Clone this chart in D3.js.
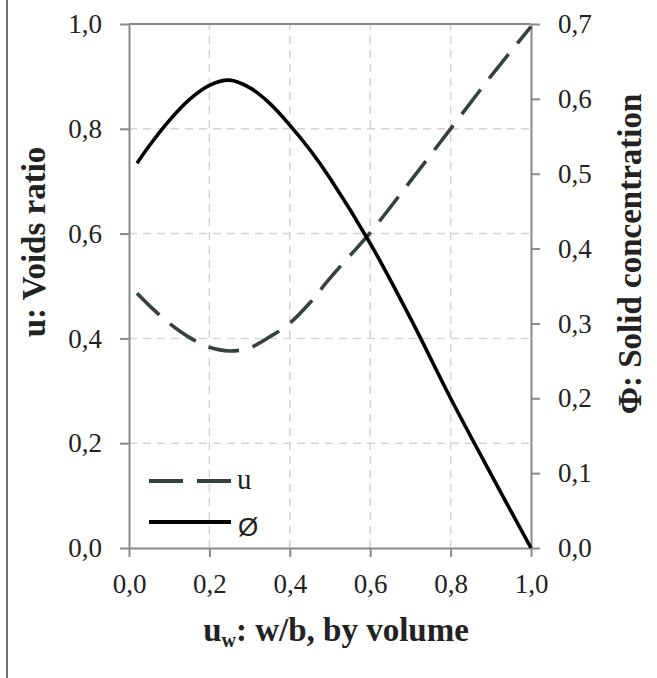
<!DOCTYPE html>
<html lang="en">
<head>
    <meta charset="UTF-8">
    <title>Voids ratio and solid concentration</title>
    <script src="https://d3js.org/d3.v7.min.js"></script>
    <style>
        body {
            margin: 0;
            background: #ffffff;
        }
        svg {
            display: block;
        }
        .tick text {
            font-family: "Liberation Serif", "Times New Roman", serif;
            font-size: 27px;
            fill: #222;
        }
        .axis path, .axis line {
            stroke: #8a8a8a;
            stroke-width: 2;
        }
        .grid line {
            stroke: #d4d4d4;
            stroke-width: 1.5;
            stroke-dasharray: 8, 6;
        }
        .title {
            font-family: "Liberation Serif", "Times New Roman", serif;
            font-weight: bold;
            font-size: 33px;
            fill: #222;
        }
    </style>
</head>
<body>
    <svg></svg>
    <script>
        // values
        const uw = [0.02, 0.05, 0.1, 0.15, 0.2, 0.25, 0.3, 0.35, 0.4, 0.45, 0.5, 0.6, 0.7, 0.8, 0.9, 1.0];
        const uVals = [0.486, 0.463, 0.429, 0.402, 0.383, 0.376, 0.382, 0.403, 0.429, 0.468, 0.515, 0.602, 0.700, 0.800, 0.900, 0.995];
        const phiVals = [0.514, 0.537, 0.571, 0.599, 0.618, 0.625, 0.615, 0.594, 0.565, 0.532, 0.494, 0.407, 0.307, 0.200, 0.099, 0.0];

        const xTicks = [0, 0.2, 0.4, 0.6, 0.8, 1.0];
        const leftTicks = [0, 0.2, 0.4, 0.6, 0.8, 1.0];
        const rightTicks = [0, 0.1, 0.2, 0.3, 0.4, 0.5, 0.6, 0.7];
        const legendNames = ["u", "Ø"];

        const width = 657, height = 678;
        const margin = { top: 24, right: 126, bottom: 130, left: 129 };

        const svg = d3.select("svg")
            .attr("width", width)
            .attr("height", height);

        const x = d3.scaleLinear().domain([0, 1]).range([margin.left, width - margin.right]);
        const yL = d3.scaleLinear().domain([0, 1]).range([height - margin.bottom, margin.top]);
        const yR = d3.scaleLinear().domain([0, 0.7]).range([height - margin.bottom, margin.top]);

        const fmt = d => d3.format(".1f")(d).replace(".", ",");

        // frame line on the left side of the figure
        svg.append("line")
            .attr("x1", 7).attr("x2", 7)
            .attr("y1", 0).attr("y2", height)
            .attr("stroke", "#333")
            .attr("stroke-width", 1.4);

        // grid
        const grid = svg.append("g").attr("class", "grid");
        grid.selectAll(".v")
            .data(xTicks.filter(d => d > 0 && d < 1))
            .enter().append("line")
            .attr("x1", d => x(d)).attr("x2", d => x(d))
            .attr("y1", yL(0)).attr("y2", yL(1));
        grid.selectAll(".h")
            .data(leftTicks.filter(d => d > 0 && d < 1))
            .enter().append("line")
            .attr("x1", x(0)).attr("x2", x(1))
            .attr("y1", d => yL(d)).attr("y2", d => yL(d));

        // top border of the plot area
        svg.append("line")
            .attr("x1", x(0)).attr("x2", x(1))
            .attr("y1", yL(1)).attr("y2", yL(1))
            .attr("stroke", "#8a8a8a")
            .attr("stroke-width", 2);

        // axes
        svg.append("g")
            .attr("class", "axis")
            .attr("transform", `translate(0,${yL(0)})`)
            .call(d3.axisBottom(x).tickValues(xTicks).tickFormat(fmt).tickSize(9).tickSizeOuter(0).tickPadding(17));

        svg.append("g")
            .attr("class", "axis")
            .attr("transform", `translate(${x(0)},0)`)
            .call(d3.axisLeft(yL).tickValues(leftTicks).tickFormat(fmt).tickSize(9).tickSizeOuter(0).tickPadding(18));

        svg.append("g")
            .attr("class", "axis")
            .attr("transform", `translate(${x(1)},0)`)
            .call(d3.axisRight(yR).tickValues(rightTicks).tickFormat(fmt).tickSize(9).tickSizeOuter(0).tickPadding(18));

        // curves
        const uLine = d3.line()
            .x((d, i) => x(uw[i]))
            .y(d => yL(d))
            .curve(d3.curveCatmullRom.alpha(0.5));
        const phiLine = d3.line()
            .x((d, i) => x(uw[i]))
            .y(d => yR(d))
            .curve(d3.curveCatmullRom.alpha(0.5));

        svg.append("path")
            .datum(uVals)
            .attr("d", uLine)
            .attr("fill", "none")
            .attr("stroke", "#34423f")
            .attr("stroke-width", 3.6)
            .attr("stroke-dasharray", "31,14");

        svg.append("path")
            .datum(phiVals)
            .attr("d", phiLine)
            .attr("fill", "none")
            .attr("stroke", "#000")
            .attr("stroke-width", 3.6);

        // legend
        const legend = svg.append("g").attr("transform", "translate(149,481)");
        legend.append("line")
            .attr("x1", 0).attr("x2", 82)
            .attr("y1", 0).attr("y2", 0)
            .attr("stroke", "#34423f")
            .attr("stroke-width", 4)
            .attr("stroke-dasharray", "34,14");
        legend.append("text")
            .attr("x", 88).attr("y", 8)
            .attr("font-family", "Liberation Serif, serif")
            .attr("font-size", 29)
            .attr("fill", "#222")
            .text(legendNames[0]);
        legend.append("line")
            .attr("x1", 0).attr("x2", 82)
            .attr("y1", 41).attr("y2", 41)
            .attr("stroke", "#000")
            .attr("stroke-width", 4);
        legend.append("text")
            .attr("x", 89).attr("y", 55)
            .attr("font-family", "Liberation Sans, Arial, sans-serif")
            .attr("font-size", 26)
            .attr("fill", "#222")
            .text(legendNames[1]);

        // axis titles
        svg.append("text")
            .attr("class", "title")
            .attr("text-anchor", "middle")
            .attr("transform", "translate(45,242) rotate(-90)")
            .text("u: Voids ratio");

        svg.append("text")
            .attr("class", "title")
            .attr("text-anchor", "middle")
            .attr("transform", "translate(641,254) rotate(-90)")
            .text("Φ: Solid concentration");

        const xt = svg.append("text")
            .attr("class", "title")
            .attr("text-anchor", "middle")
            .attr("x", 336)
            .attr("y", 641);
        xt.append("tspan").text("u");
        xt.append("tspan").attr("font-size", 20).attr("dy", 6).text("w");
        xt.append("tspan").attr("dy", -6).text(": w/b, by volume");
    </script>
</body>
</html>
